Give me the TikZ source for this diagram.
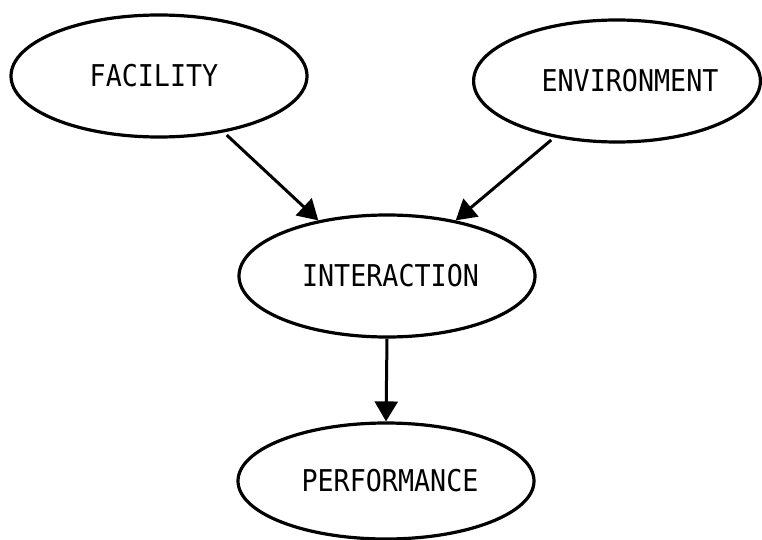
\documentclass[tikz,border=0pt]{standalone}
\usepackage{fontspec}
\newfontfamily\typ[FakeStretch=0.89]{DejaVu Sans Mono}
\usetikzlibrary{shapes.geometric,arrows.meta}
\tikzset{
  oval/.style={draw=black, ellipse, line width=3.2pt, inner sep=0pt,
    minimum width=296pt, minimum height=122pt, font=\typ\fontsize{30}{30}\selectfont},
  conn/.style={line width=3pt, -{Triangle[length=20pt,width=23pt]}}
}
\begin{document}
\begin{tikzpicture}[x=1pt,y=-1pt]
\useasboundingbox (0,0) rectangle (762,540);
\node[oval] (fac) at (159,76) {FACILITY\hspace*{10pt}};
\node[oval, minimum width=286pt] (env) at (617,81) {\hspace*{26pt}ENVIRONMENT};
\node[oval] (int) at (387,276) {\hspace*{7pt}INTERACTION};
\node[oval, minimum height=116pt] (perf) at (386,481) {\hspace*{8pt}PERFORMANCE};
\draw[conn, shorten <=4pt] (fac.-41) -- (int.141);
\draw[conn, shorten <=4pt] (env.-138) -- (int.39);
\draw[conn] (int.south) -- (perf.north);
\end{tikzpicture}
\end{document}
